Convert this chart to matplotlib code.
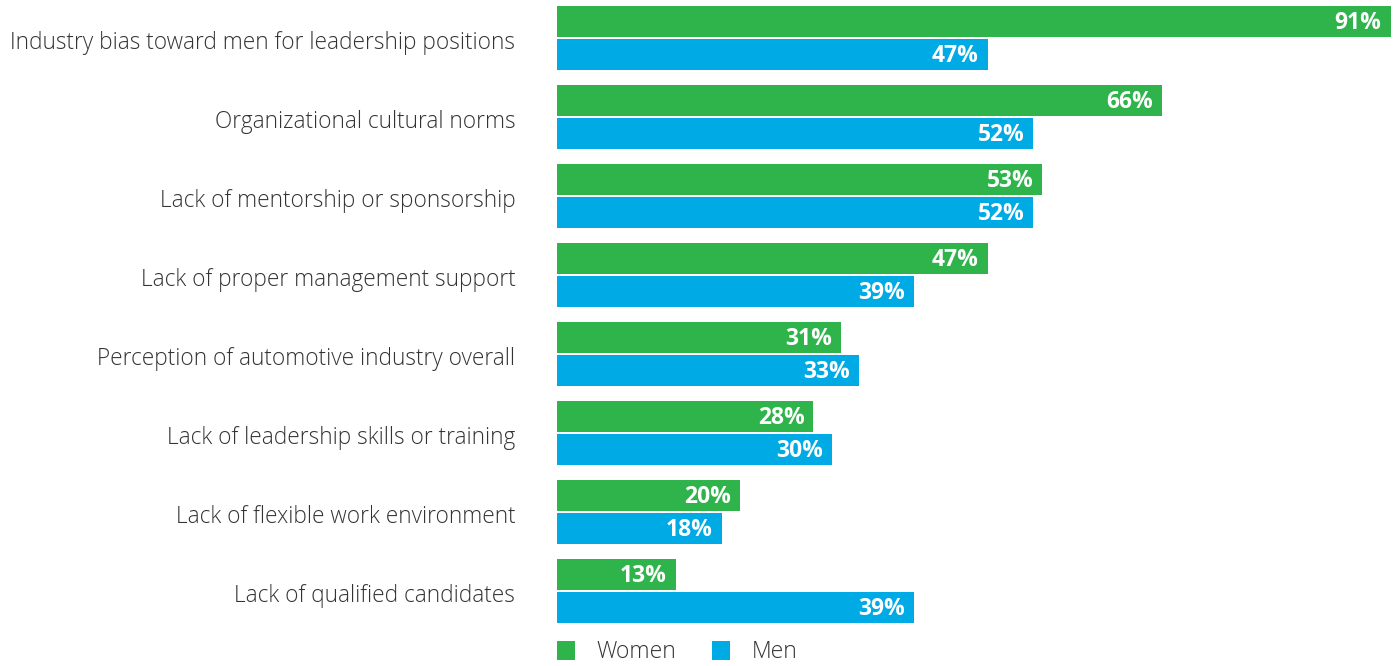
import matplotlib
matplotlib.use("Agg")
import matplotlib.pyplot as plt
import matplotlib.transforms as mtransforms
from matplotlib.patches import Patch
import numpy as np

categories = [
    "Industry bias toward men for leadership positions",
    "Organizational cultural norms",
    "Lack of mentorship or sponsorship",
    "Lack of proper management support",
    "Perception of automotive industry overall",
    "Lack of leadership skills or training",
    "Lack of flexible work environment",
    "Lack of qualified candidates",
]
women = [91, 66, 53, 47, 31, 28, 20, 13]
men = [47, 52, 52, 39, 33, 30, 18, 39]
series_names = ["Women", "Men"]

GREEN = "#2fb44b"
BLUE = "#00aae4"
TEXT = "#333333"

plt.rcParams["font.family"] = ["Open Sans", "DejaVu Sans"]

W, H = 1398, 666
fig = plt.figure(figsize=(W / 100, H / 100), dpi=100)
ax_left, ax_top, ax_bottom = 557, 0, 630
ax = fig.add_axes([ax_left / W, 1 - ax_bottom / H, (W - ax_left) / W, (ax_bottom - ax_top) / H])

pitch = 79.0
y = np.arange(len(categories))
bh = 31 / pitch
off = 16.5 / pitch

bw = ax.barh(y - off, women, height=bh, color=GREEN, edgecolor="none")
bm = ax.barh(y + off, men, height=bh, color=BLUE, edgecolor="none")

scale = 9.16
ax.set_xlim(0, (W - ax_left) / scale)
ax.set_ylim((ax_bottom - 38) / pitch, (ax_top - 38) / pitch)

for bars, vals in ((bw, women), (bm, men)):
    for rect, v in zip(bars, vals):
        ax.annotate(f"{v}%", xy=(rect.get_width(), rect.get_y() + rect.get_height() / 2),
                    xytext=(-6.5, -1.2), textcoords="offset points", ha="right", va="center",
                    color="white", fontsize=16.5, fontweight="bold")

ax.set_yticks(y)
ax.set_yticklabels(categories, fontsize=16.3, color=TEXT, fontweight="light")
ax.tick_params(axis="y", length=0, pad=30)
ax.set_xticks([])
shift = mtransforms.ScaledTranslation(0, -1.5 / 72, fig.dpi_scale_trans)
for lbl in ax.get_yticklabels():
    lbl.set_transform(lbl.get_transform() + shift)
for s in ax.spines.values():
    s.set_visible(False)

handles = [Patch(facecolor=GREEN, edgecolor="none"), Patch(facecolor=BLUE, edgecolor="none")]
leg = fig.legend(handles, series_names, loc="center left", ncol=2, frameon=False,
                 bbox_to_anchor=(557 / W, 1 - 652 / H),
                 prop={"size": 16.5, "weight": "light"},
                 handlelength=0.78, handleheight=0.9, handletextpad=0.92,
                 columnspacing=1.6, borderaxespad=0, borderpad=0)
for t in leg.get_texts():
    t.set_color(TEXT)

fig.savefig("out.png", dpi=100)
